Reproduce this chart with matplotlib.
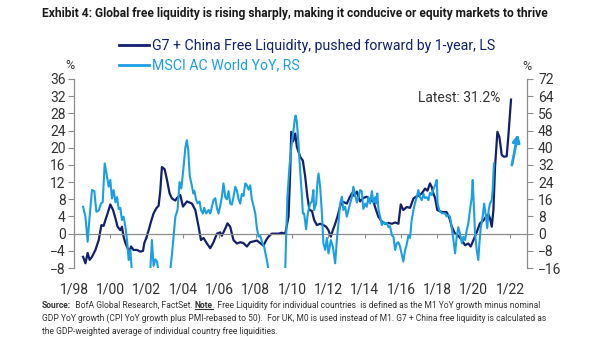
import matplotlib
matplotlib.use("Agg")
import matplotlib.pyplot as plt
from matplotlib.lines import Line2D

plt.rcParams['font.family'] = ['Roboto', 'DejaVu Sans']

NAVY = "#13206b"
SKY = "#1c9fe2"
GREY = "#8c8c8c"
INK = "#333333"

# G7 + China free liquidity, pushed forward one year (left scale, %)
liq_t = [1998.50, 1998.63, 1998.75, 1998.86, 1998.99, 1999.18, 1999.36, 1999.51, 1999.63, 1999.73,
         1999.85, 2000.00, 2000.15, 2000.28, 2000.40, 2000.55, 2000.64, 2000.73, 2000.83, 2000.95,
         2001.06, 2001.14, 2001.28, 2001.47, 2001.65, 2001.80, 2001.87, 2001.98, 2002.11, 2002.24,
         2002.38, 2002.53, 2002.66, 2002.75, 2002.84, 2002.99, 2003.12, 2003.26, 2003.39, 2003.58,
         2003.67, 2003.85, 2004.00, 2004.22, 2004.49, 2004.68, 2004.86, 2004.99, 2005.13, 2005.32,
         2005.50, 2005.68, 2005.87, 2006.05, 2006.14, 2006.33, 2006.45, 2006.60, 2006.78, 2006.97,
         2007.15, 2007.33, 2007.52, 2007.70, 2007.88, 2008.07, 2008.25, 2008.43, 2008.58, 2008.71,
         2008.89, 2009.08, 2009.26, 2009.44, 2009.63, 2009.81, 2009.90, 2009.96, 2010.07, 2010.18,
         2010.27, 2010.45, 2010.60, 2010.73, 2010.85, 2010.96, 2011.10, 2011.22, 2011.37, 2011.55,
         2011.73, 2011.88, 2012.01, 2012.14, 2012.25, 2012.38, 2012.50, 2012.65, 2012.75, 2012.87,
         2013.02, 2013.16, 2013.30, 2013.42, 2013.57, 2013.75, 2013.93, 2014.12, 2014.30, 2014.48,
         2014.63, 2014.76, 2014.95, 2015.13, 2015.31, 2015.50, 2015.68, 2015.86, 2015.99, 2016.13,
         2016.32, 2016.50, 2016.69, 2016.83, 2016.96, 2017.15, 2017.33, 2017.46, 2017.60, 2017.70,
         2017.78, 2017.88, 2018.00, 2018.15, 2018.33, 2018.52, 2018.67, 2018.80, 2018.98, 2019.16,
         2019.35, 2019.53, 2019.71, 2019.84, 2019.99, 2020.17, 2020.35, 2020.53, 2020.68, 2020.81,
         2020.90, 2021.00, 2021.09, 2021.18, 2021.31, 2021.42, 2021.55, 2021.67, 2021.82, 2021.91,
         2022.06]
liq_v = [-5.4, -6.9, -4.5, -6.1, -5.4, -3.8, -1.5, 2.0, 1.8, 3.2,
         4.7, 6.8, 5.5, 3.6, 1.6, 0.8, 1.6, -0.7, -2.2, -3.4,
         -4.2, -3.0, -3.8, -3.8, -4.2, -4.0, -2.2, -1.0, 0.8, 2.8,
         4.7, 5.9, 6.5, 10.0, 15.5, 15.0, 12.5, 9.4, 8.2, 7.7,
         8.3, 9.0, 6.3, 7.5, 7.0, 5.5, 1.6, -1.5, -1.0, -2.3,
         -3.4, -2.0, 0.0, 0.3, -0.5, 1.2, 2.4, 1.6, -1.5, -2.3,
         -2.0, -2.2, -3.0, -2.0, -1.8, -1.6, -2.2, -2.8, -1.5, -0.7,
         0.0, 0.0, 0.0, 0.2, 0.0, 3.9, 14.0, 23.7, 21.5, 23.3,
         20.2, 17.9, 17.0, 13.2, 8.6, 5.5, 5.3, 3.2, 2.0, 2.3,
         2.0, 1.6, 0.8, -0.7, 0.8, 2.3, 3.9, 6.3, 7.5, 7.3,
         7.0, 8.3, 9.4, 8.8, 9.8, 7.5, 8.3, 8.6, 7.8, 7.5,
         5.5, 3.9, 2.8, 2.3, 2.5, 2.3, 2.6, 2.3, 6.8, 5.5,
         6.2, 6.0, 8.2, 8.6, 8.8, 9.4, 10.5, 10.0, 11.7, 10.8,
         9.4, 8.3, 5.5, 5.2, 5.0, 5.0, 3.6, 1.6, 0.0, -0.5,
         -1.5, -2.7, -2.3, -3.0, -1.5, 0.3, 2.4, 3.0, 3.9, 4.5,
         3.6, 1.6, 5.5, 15.5, 23.7, 22.5, 18.3, 17.9, 18.0, 22.5,
         31.2]

# MSCI AC World, YoY (right scale, %)
msci_t = [1998.50, 1998.63, 1998.75, 1998.86, 1998.99, 1999.12, 1999.23, 1999.36, 1999.49, 1999.58,
          1999.69, 1999.82, 1999.91, 2000.00, 2000.09, 2000.18, 2000.28, 2000.37, 2000.46, 2000.55,
          2000.64, 2000.73, 2000.83, 2000.92, 2001.01, 2001.10, 2001.19, 2001.38, 2001.65, 2001.93,
          2002.20, 2002.29, 2002.38, 2002.48, 2002.57, 2002.66, 2002.86, 2003.08, 2003.30, 2003.39,
          2003.58, 2003.70, 2003.81, 2003.91, 2004.02, 2004.13, 2004.21, 2004.29, 2004.37, 2004.46,
          2004.57, 2004.62, 2004.73, 2004.80, 2004.91, 2004.99, 2005.10, 2005.17, 2005.28, 2005.41,
          2005.50, 2005.59, 2005.68, 2005.78, 2005.87, 2005.96, 2006.05, 2006.14, 2006.23, 2006.33,
          2006.42, 2006.51, 2006.60, 2006.69, 2006.78, 2006.88, 2006.97, 2007.06, 2007.15, 2007.24,
          2007.33, 2007.43, 2007.52, 2007.61, 2007.70, 2007.79, 2007.88, 2007.98, 2008.07, 2008.16,
          2008.25, 2008.35, 2008.47, 2008.58, 2008.65, 2008.71, 2008.91, 2009.24, 2009.52, 2009.63,
          2009.68, 2009.75, 2009.86, 2009.99, 2010.07, 2010.15, 2010.20, 2010.27, 2010.36, 2010.45,
          2010.55, 2010.60, 2010.67, 2010.73, 2010.78, 2010.85, 2010.91, 2011.00, 2011.10, 2011.18,
          2011.22, 2011.33, 2011.40, 2011.46, 2011.55, 2011.65, 2011.73, 2011.83, 2011.92, 2012.01,
          2012.14, 2012.25, 2012.38, 2012.47, 2012.56, 2012.65, 2012.75, 2012.83, 2012.93, 2013.02,
          2013.11, 2013.20, 2013.30, 2013.38, 2013.48, 2013.57, 2013.66, 2013.75, 2013.84, 2013.93,
          2014.03, 2014.12, 2014.21, 2014.30, 2014.40, 2014.48, 2014.58, 2014.63, 2014.70, 2014.76,
          2014.85, 2014.95, 2015.04, 2015.13, 2015.22, 2015.31, 2015.40, 2015.50, 2015.59, 2015.68,
          2015.77, 2015.86, 2015.95, 2016.04, 2016.13, 2016.23, 2016.32, 2016.41, 2016.50, 2016.59,
          2016.69, 2016.78, 2016.87, 2016.96, 2017.05, 2017.15, 2017.24, 2017.33, 2017.42, 2017.51,
          2017.60, 2017.70, 2017.78, 2017.88, 2017.97, 2018.02, 2018.11, 2018.25, 2018.43, 2018.52,
          2018.61, 2018.70, 2018.80, 2018.89, 2018.98, 2019.07, 2019.16, 2019.25, 2019.35, 2019.44,
          2019.53, 2019.62, 2019.71, 2019.80, 2019.90, 2019.95, 2020.02, 2020.08, 2020.17, 2020.26,
          2020.32, 2020.39, 2020.50, 2020.58, 2020.68, 2020.75, 2020.83, 2020.90, 2021.00, 2021.05,
          2021.12]
msci_v = [12.5, 7.9, -3.8, 7.9, 20.3, 19.8, 10.2, 10.7, 14.1, 14.6,
          32.7, 26.5, 21.8, 25.0, 16.4, 20.3, 14.6, 17.0, 11.5, 12.0,
          6.3, 7.9, 3.2, -3.0, -12.3, -7.6, -18.0, -22.0, -24.0, -21.0,
          -17.0, -3.0, -15.0, -12.0, -13.0, -18.0, -22.0, -20.0, -17.0, -10.0,
          7.9, 11.0, 24.0, 21.0, 30.0, 40.0, 43.5, 39.0, 27.0, 23.5,
          18.7, 20.0, 15.6, 14.1, 15.0, 11.0, 9.4, 12.0, 9.4, 11.0,
          9.4, 12.5, 15.6, 16.5, 11.8, 9.4, 13.0, 17.0, 23.4, 17.0,
          16.0, 19.8, 14.0, 13.5, 17.0, 21.8, 20.0, 16.0, 14.0, 18.5,
          17.5, 23.4, 22.5, 20.5, 22.5, 16.0, 13.0, 9.4, 2.5, -1.4,
          -1.0, -3.8, -6.1, -10.7, -13.8, -17.0, -22.0, -24.0, -20.0, -16.5,
          -1.4, 17.2, 31.0, 42.0, 47.0, 53.0, 55.0, 52.0, 42.0, 29.6,
          17.2, 9.4, 9.4, 5.5, 2.0, 7.9, 11.0, 14.0, 15.0, 20.3,
          11.0, 14.0, 23.4, 28.0, 22.0, 9.4, -4.5, -7.6, -2.0, -9.2,
          -3.0, -6.0, -13.8, -3.0, 4.8, 14.0, 17.2, 11.0, 12.5, 7.9,
          11.0, 14.0, 17.0, 21.8, 18.0, 14.5, 17.0, 20.3, 19.8, 11.5,
          14.0, 12.5, 17.0, 14.0, 19.8, 14.5, 17.0, 14.0, 18.7, 11.5,
          7.9, 4.0, 5.5, 4.5, 5.0, 3.0, 3.5, -0.7, -1.5, -7.6,
          -4.5, -4.0, -6.0, -9.5, -13.0, -7.6, -5.0, -1.0, -2.0, 6.3,
          11.0, 14.5, 17.0, 20.3, 17.0, 15.6, 18.5, 16.5, 17.0, 15.6,
          19.0, 18.0, 20.5, 22.5, 25.0, 14.0, 11.0, 9.5, 9.4, 8.0,
          8.6, 7.9, 2.5, -3.0, -9.2, -1.5, 3.0, 0.0, -4.5, -1.5,
          -3.0, 1.5, 4.8, 11.0, 17.0, 25.0, 11.0, 0.0, -7.6, -12.3,
          -4.5, 2.5, 7.9, 14.0, 7.9, 2.5, 11.0, 14.0, 15.6, 20.3,
          32.7]

# expected direction of equities (right scale)
arrow_t = [2022.11, 2022.44]
arrow_v = [31.9, 46.3]

year_ticks = list(range(1998, 2023, 2))
year_labels = [f"1/{y % 100:02d}" for y in year_ticks]
left_ticks = list(range(-8, 37, 4))
right_ticks = list(range(-16, 73, 8))

W, H = 605, 341
fig = plt.figure(figsize=(W / 100, H / 100), dpi=100)
renderer = fig.canvas.get_renderer()
ax = fig.add_axes([74 / W, 1 - 268 / H, (527 - 74) / W, (268 - 79) / H])
ax2 = ax.twinx()

ax.plot(liq_t, liq_v, color=NAVY, lw=1.6, solid_joinstyle='round')
ax2.plot(msci_t, msci_v, color=SKY, lw=1.5, solid_joinstyle='round')
ax2.annotate('', xy=(arrow_t[1], arrow_v[1]), xytext=(arrow_t[0], arrow_v[0]),
             arrowprops=dict(arrowstyle='-|>', color=SKY, lw=2, mutation_scale=11,
                             shrinkA=0, shrinkB=0))

ax.set_xlim(1998.0, 2022.94)
ax.set_ylim(left_ticks[0], left_ticks[-1])
ax2.set_ylim(right_ticks[0], right_ticks[-1])

# zero line doubles as the time axis; labels pushed down below the plot
ax.spines['top'].set_visible(False)
ax.spines['right'].set_visible(False)
for side in ('top', 'bottom', 'left'):
    ax2.spines[side].set_visible(False)
ax.spines['bottom'].set_position(('data', 0))
for sp in (ax.spines['bottom'], ax.spines['left'], ax2.spines['right']):
    sp.set_color(GREY)
    sp.set_linewidth(0.9)

ax.set_xticks(year_ticks)
ax.set_xticklabels(year_labels)
ax.tick_params(axis='x', direction='out', length=3, color=GREY, pad=32,
               labelsize=10, labelcolor=INK)
ax.set_yticks(left_ticks)
ax.tick_params(axis='y', direction='out', length=4, color=GREY, pad=2,
               labelsize=10, labelcolor=INK)
ax2.set_yticks(right_ticks)
ax2.tick_params(axis='y', direction='out', length=4, color=GREY, pad=4,
                labelsize=10, labelcolor=INK)

ax.text(-0.01, 1.035, '%', transform=ax.transAxes, ha='center', va='bottom',
        fontsize=9, color=INK)
ax2.text(1.0, 1.03, '%', transform=ax2.transAxes, ha='center', va='bottom',
         fontsize=9, color=INK)

ax.text(2019.2, 31.5, f"Latest: {liq_v[-1]}%", ha='center', va='center',
        fontsize=10, color=INK)


def fitted_size(txt, width_px, size=10, **kw):
    # font size that makes txt span width_px
    probe = fig.text(0, 0, txt, fontsize=size, **kw)
    w = probe.get_window_extent(renderer).width
    probe.remove()
    return size * width_px / w


legend_labels = ["G7 + China Free Liquidity, pushed forward by 1-year, LS", "MSCI AC World YoY, RS"]
leg_size = min(11, fitted_size(legend_labels[0], 342))
handles = [Line2D([], [], color=NAVY, lw=2), Line2D([], [], color=SKY, lw=2)]
fig.legend(handles, legend_labels, loc='upper left', bbox_to_anchor=(119 / W, 1 - 39 / H),
           frameon=False, fontsize=leg_size, handlelength=30 / (leg_size * 1.39),
           handletextpad=0.25, labelspacing=0.4, borderpad=0, borderaxespad=0,
           labelcolor='linecolor')

title = ("Exhibit 4: Global free liquidity is rising sharply, making it conducive "
         "or equity markets to thrive")
fig.text(42 / W, 1 - 13 / H, title,
         fontsize=min(10, fitted_size(title, 508, weight='bold')), weight='bold',
         color='#1a1a1a', ha='left', va='center')


# footnote built from styled runs laid side by side
def put_runs(y_px, runs, size, x_px=42):
    x = x_px
    for txt, bold, underline in runs:
        t = fig.text(x / W, 1 - y_px / H, txt, fontsize=size, color=INK,
                     weight='bold' if bold else 'normal', ha='left', va='center')
        bb = t.get_window_extent(renderer)
        if underline:
            fig.add_artist(Line2D([bb.x0 / W, bb.x1 / W], [(bb.y0 + 0.5) / H] * 2,
                                  color=INK, lw=0.8, transform=fig.transFigure))
        x = bb.x1


foot_1 = [("Source:", True, False), ("  BofA Global Research, FactSet. ", False, False),
          ("Note", True, True),
          (". Free Liquidity for individual countries  is defined as the M1 YoY growth minus nominal",
           False, False)]
foot_2 = [("GDP YoY growth (CPI YoY growth plus PMI-rebased to 50).  For UK, M0 is used instead of M1. "
           "G7 + China free liquidity is calculated as", False, False)]
foot_3 = [("the GDP-weighted average of individual country free liquidities.", False, False)]
foot_size = min(7, fitted_size(foot_2[0][0], 505))
put_runs(305, foot_1, foot_size)
put_runs(318, foot_2, foot_size)
put_runs(331, foot_3, foot_size)

fig.savefig("out.png", dpi=100)
